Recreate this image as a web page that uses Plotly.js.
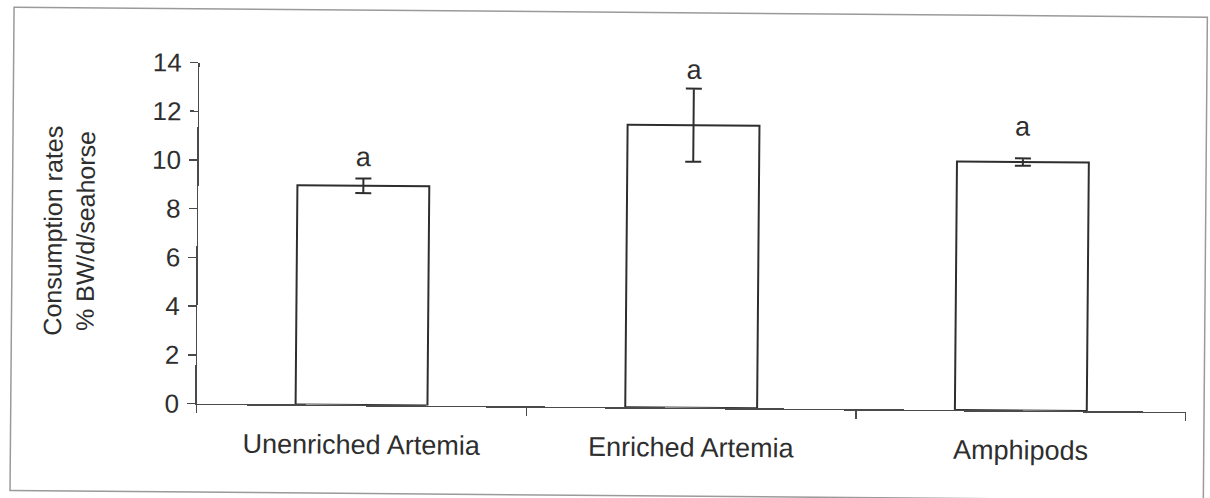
<!DOCTYPE html>
<html>
<head>
<meta charset="utf-8">
<script src="https://cdn.plot.ly/plotly-3.0.1.min.js"></script>
<style>
  html, body { margin: 0; padding: 0; background: #ffffff; overflow: hidden; }
  #chart { width: 1210px; height: 498px; transform: rotate(0.48deg); transform-origin: 605px 249px; }
</style>
</head>
<body>
<div id="chart"></div>
<script>
// Daily consumption rate of seahorses fed three diets
const diets = ['Unenriched Artemia', 'Enriched Artemia', 'Amphipods'];
const consumption = [9.0, 11.6, 10.2];      // % BW/d/seahorse
const stdError = [0.3, 1.5, 0.15];
const groupLetters = ['a', 'a', 'a'];
const yTicks = [0, 2, 4, 6, 8, 10, 12, 14];

const ink = '#2e2e2e';
const axisInk = '#4a4a4a';
const fontFamily = '"Liberation Sans", Arial, Helvetica, sans-serif';

const bars = {
  type: 'bar',
  x: diets,
  y: consumption,
  marker: { color: '#ffffff', line: { color: ink, width: 2 } },
  error_y: { type: 'data', array: stdError, visible: true, color: ink, thickness: 2, width: 8 },
  hoverinfo: 'x+y'
};

// extra lift of each significance letter above its error bar (px)
const letterLift = [4, 2, 15];
const letters = diets.map((d, i) => ({
  x: d, y: consumption[i] + stdError[i], xref: 'x', yref: 'y',
  text: groupLetters[i], showarrow: false, yanchor: 'bottom', yshift: letterLift[i],
  font: { family: fontFamily, size: 27, color: ink }
}));

const yTitle = {
  xref: 'paper', yref: 'paper', x: -0.13, y: 0.505,
  text: 'Consumption rates<br>% BW/d/seahorse', showarrow: false, textangle: -90,
  xanchor: 'center', yanchor: 'middle',
  font: { family: fontFamily, size: 25, color: ink }
};

const layout = {
  width: 1210, height: 498,
  margin: { l: 198, r: 23, t: 66, b: 91 },
  paper_bgcolor: '#ffffff', plot_bgcolor: '#ffffff',
  showlegend: false,
  bargap: 0.6,
  font: { family: fontFamily, color: ink },
  xaxis: {
    type: 'category', range: [-0.5, 2.5],
    showline: true, linecolor: axisInk, linewidth: 1.5, layer: 'above traces',
    ticks: 'outside', tickson: 'boundaries', ticklen: 8, tickcolor: axisInk, tickwidth: 1.5,
    showgrid: false, zeroline: false,
    tickfont: { family: fontFamily, size: 27, color: ink },
    ticklabelstandoff: 15
  },
  yaxis: {
    range: [0, 14], tickvals: yTicks, ticktext: yTicks.map(String),
    showline: true, linecolor: axisInk, linewidth: 1.5,
    ticks: 'outside', ticklen: 8, tickcolor: axisInk, tickwidth: 1.5,
    showgrid: false, zeroline: false,
    tickfont: { family: fontFamily, size: 26, color: ink },
    ticklabelstandoff: 3
  },
  annotations: letters.concat([yTitle]),
  shapes: [{
    type: 'rect', xref: 'paper', yref: 'paper',
    x0: -0.188, x1: 1.0186, y0: -0.2595, y1: 1.158,
    line: { color: '#9a9a9a', width: 1.5 }, fillcolor: 'rgba(0,0,0,0)', layer: 'below'
  }]
};

Plotly.newPlot('chart', [bars], layout, { displayModeBar: false, staticPlot: true });
</script>
</body>
</html>
